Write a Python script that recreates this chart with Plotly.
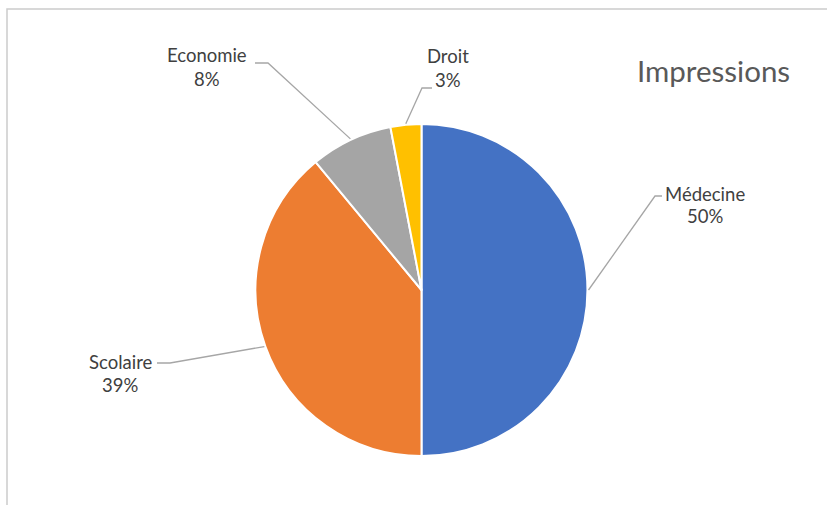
import math
import plotly.graph_objects as go

# Share of printing volume by field
categories = ["Médecine", "Scolaire", "Economie", "Droit"]
values = [50, 39, 8, 3]
colors = ["#4472C4", "#ED7D31", "#A5A5A5", "#FFC000"]

W, H = 827, 505
CX, CY, R = 421.5, 290.0, 166.0   # pie centre and radius in pixels


def px(x):
    return x / W


def py(y):
    return 1 - y / H


# label placement (pixels): label centre, elbow of leader line, end of leader line
label_layout = {
    "Médecine": {"label": (705, 205), "elbow": (655, 196), "end": (662, 196)},
    "Scolaire": {"label": (120, 373), "elbow": (170, 363), "end": (157, 363)},
    "Economie": {"label": (207, 67), "elbow": (268, 63), "end": (255, 63)},
    "Droit": {"label": (448, 68), "elbow": (422, 88), "end": (432, 88)},
}

FONT = "Lato, 'Open Sans', sans-serif"

fig = go.Figure(
    go.Pie(
        labels=categories,
        values=values,
        sort=False,
        direction="clockwise",
        rotation=0,
        marker=dict(colors=colors, line=dict(color="white", width=2)),
        textinfo="none",
        hoverinfo="label+percent",
        domain=dict(x=[px(CX - R), px(CX + R)], y=[py(CY + R), py(CY - R)]),
        showlegend=False,
    )
)

shapes = [
    # chart frame
    dict(type="rect", xref="paper", yref="paper",
         x0=px(7), x1=1.05, y0=-0.05, y1=py(9),
         line=dict(color="#cccccc", width=1.5), fillcolor="rgba(0,0,0,0)", layer="below"),
]
annotations = []

total = sum(values)
cum = 0.0
for cat, v in zip(categories, values):
    mid = (cum + v / 2) / total * 2 * math.pi
    cum += v
    ex = CX + (R + 1) * math.sin(mid)
    ey = CY - (R + 1) * math.cos(mid)
    lay = label_layout[cat]
    (bx, by), (tx, ty) = lay["elbow"], lay["end"]
    shapes.append(dict(type="path", xref="paper", yref="paper",
                       path=f"M {px(ex)},{py(ey)} L {px(bx)},{py(by)} L {px(tx)},{py(ty)}",
                       line=dict(color="#a6a6a6", width=1.3)))
    lx, ly = lay["label"]
    pct = round(v / total * 100)
    for text, dy in ((cat, -11.5), (f"{pct}%", 11.5)):
        annotations.append(dict(text=text, x=px(lx), y=py(ly + dy), xref="paper", yref="paper",
                                xanchor="center", yanchor="middle", showarrow=False,
                                font=dict(family=FONT, size=18.5, color="#404040")))

annotations.append(dict(text="Impressions", x=px(713), y=py(70), xref="paper", yref="paper",
                        xanchor="center", yanchor="middle", showarrow=False,
                        font=dict(family=FONT, size=29.5, color="#595959")))

fig.update_layout(
    width=W, height=H,
    margin=dict(l=0, r=0, t=0, b=0),
    paper_bgcolor="white", plot_bgcolor="white",
    shapes=shapes, annotations=annotations,
)

fig.write_html("out.html")
